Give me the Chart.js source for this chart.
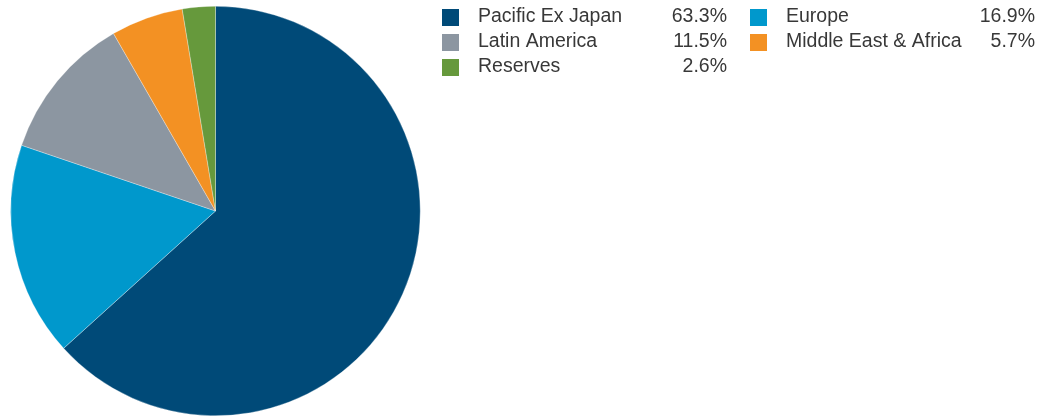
<!DOCTYPE html>
<html>
<head>
<meta charset="utf-8">
<script src="https://cdn.jsdelivr.net/npm/chart.js@4/dist/chart.umd.min.js"></script>
<style>
  html, body { margin: 0; padding: 0; background: #fff; }
  #wrap { position: relative; width: 1038px; height: 419px; }
</style>
</head>
<body>
<div id="wrap"><canvas id="regionChart"></canvas></div>
<script>
// Regional allocation (%)
const regions = ['Pacific Ex Japan', 'Europe', 'Latin America', 'Middle East & Africa', 'Reserves'];
const weights = [63.3, 16.9, 11.5, 5.7, 2.6];
const colours = ['#004a78', '#0098cc', '#8c96a1', '#f39123', '#66993c'];

// two-column legend with right-aligned values, drawn beside the pie
const sideLegend = {
  id: 'sideLegend',
  afterDraw(chart) {
    const ctx = chart.ctx;
    const cols = [
      { box: 442, label: 478, value: 727 },
      { box: 750, label: 786, value: 1035 }
    ];
    ctx.save();
    ctx.font = '19.5px "Liberation Sans", Arial, sans-serif';
    ctx.textBaseline = 'middle';
    regions.forEach((name, i) => {
      const c = cols[i % 2];
      const y = 17 + Math.floor(i / 2) * 25;
      ctx.fillStyle = colours[i];
      ctx.fillRect(c.box, y - 8, 17, 17);
      ctx.fillStyle = '#383838';
      ctx.textAlign = 'left';
      ctx.fillText(name, c.label, y);
      ctx.textAlign = 'right';
      ctx.fillText(weights[i].toFixed(1) + '%', c.value, y);
    });
    ctx.restore();
  }
};

const ctx = document.getElementById('regionChart').getContext('2d');
new Chart(ctx, {
  type: 'pie',
  data: {
    labels: regions,
    datasets: [{
      data: weights,
      backgroundColor: colours,
      borderColor: 'rgba(255,255,255,0.6)',
      borderWidth: 0.5
    }]
  },
  options: {
    responsive: true,
    maintainAspectRatio: false,
    animation: false,
    layout: { padding: { left: 10, top: 6, bottom: 3, right: 617 } },
    plugins: {
      legend: { display: false },
      tooltip: { enabled: false }
    }
  },
  plugins: [sideLegend]
});
</script>
</body>
</html>
